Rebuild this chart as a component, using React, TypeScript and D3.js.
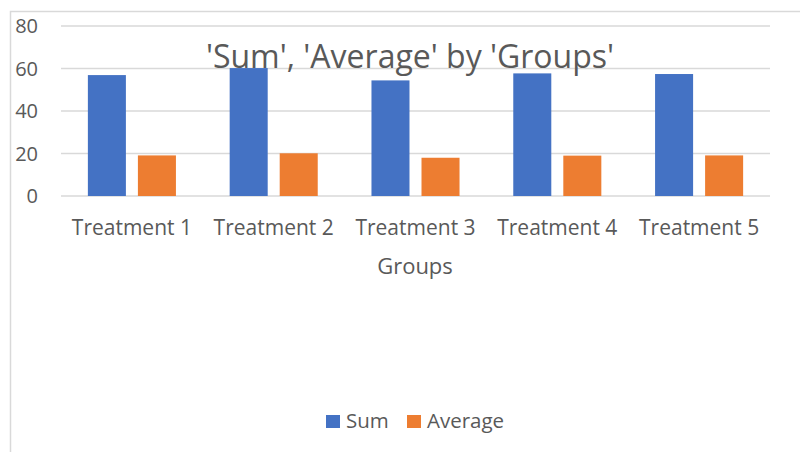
import React from "react";
import * as d3 from "d3";

const categories = ["Treatment 1", "Treatment 2", "Treatment 3", "Treatment 4", "Treatment 5"];
const seriesNames = ["Sum", "Average"];
const sumValues = [56.9, 60.2, 54.4, 57.7, 57.4];
const averageValues = [19.1, 20.1, 18.0, 19.0, 19.1];
const yTicks = [0, 20, 40, 60, 80];
const colors = ["#4472C4", "#ED7D31"];

const W = 800;
const H = 452;
const FONT = "'Open Sans', 'Noto Sans', sans-serif";
const TXT = "#595959";

export default function App() {
  const left = 61, right = 770, top = 26, bottom = 196;
  const y = d3.scaleLinear().domain([0, 80]).range([bottom, top]);
  const x0 = d3.scaleBand<string>().domain(categories).range([left, right]).paddingInner(0.379).paddingOuter(0.1895);
  const x1 = d3.scaleBand<string>().domain(seriesNames).range([0, x0.bandwidth()]).paddingInner(0.24).paddingOuter(0);
  const data = [sumValues, averageValues];

  return (
    <svg width={W} height={H} style={{ position: "absolute", left: 0, top: 0, background: "#fff" }}>
      <rect x={10.5} y={11.5} width={W + 10} height={H + 10} fill="#fff" stroke="#d9d9d9" strokeWidth={1.5} />
      {yTicks.map((t) => (
        <g key={t}>
          <line x1={left} x2={right} y1={y(t)} y2={y(t)} stroke="#d9d9d9" strokeWidth={1.5} />
          <text x={38} y={y(t)} dy="0.36em" textAnchor="end" fontFamily={FONT} fontSize={20} fill={TXT}>{t}</text>
        </g>
      ))}
      <text x={410} y={68} textAnchor="middle" fontFamily={FONT} fontSize={32} fill={TXT}>'Sum', 'Average' by 'Groups'</text>
      {categories.map((c, i) => (
        <g key={c}>
          {data.map((vals, s) => (
            <rect key={s} x={(x0(c) as number) + (x1(seriesNames[s]) as number)} y={y(vals[i])} width={x1.bandwidth()} height={y(0) - y(vals[i])} fill={colors[s]} />
          ))}
          <text x={(x0(c) as number) + x0.bandwidth() / 2} y={235} textAnchor="middle" fontFamily={FONT} fontSize={21} fill={TXT}>{c}</text>
        </g>
      ))}
      <text x={415} y={274} textAnchor="middle" fontFamily={FONT} fontSize={22} fill={TXT}>Groups</text>
      <g>
        <rect x={326} y={415} width={14} height={13} fill={colors[0]} />
        <text x={346} y={428} fontFamily={FONT} fontSize={20.5} fill={TXT}>Sum</text>
        <rect x={407} y={415} width={14} height={13} fill={colors[1]} />
        <text x={427} y={428} fontFamily={FONT} fontSize={20.5} fill={TXT}>Average</text>
      </g>
    </svg>
  );
}
